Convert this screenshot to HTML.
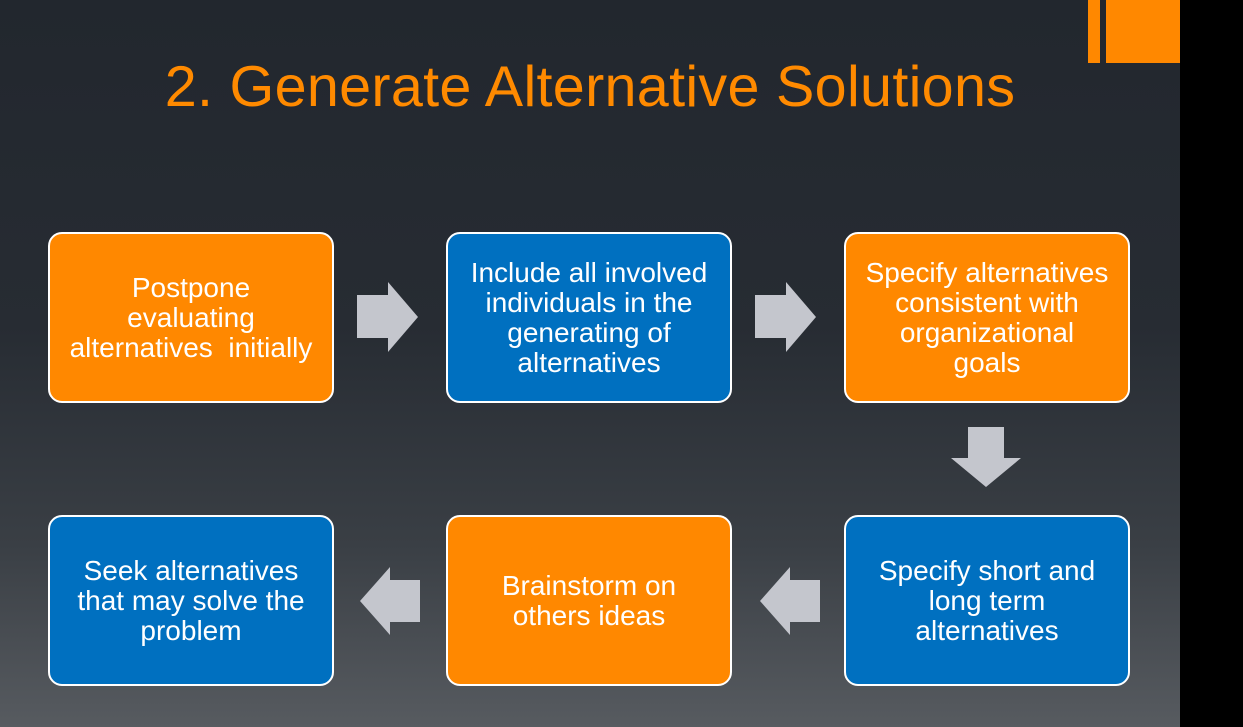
<!DOCTYPE html>
<html><head><style>
body{margin:0;width:1243px;height:727px;background:#000;overflow:hidden;font-family:"Liberation Sans",Arial,sans-serif}
#s{position:absolute;left:0;top:0;width:1180px;height:727px;background:linear-gradient(#22272e 0%,#272c33 45%,#3a3f45 75%,#575b60 100%)}
.b{position:absolute;width:282px;height:167px;border:2px solid #fff;border-radius:14px;color:#fff;font-size:28px;line-height:30px;display:flex;align-items:center;justify-content:center;text-align:center;box-sizing:content-box}
.o{background:#ff8800}.u{background:#0070c0}
h1{position:absolute;left:0;width:1180px;top:54px;margin:0;text-align:center;font-weight:normal;color:#ff8a00;font-size:57.5px;letter-spacing:0.3px}
svg{position:absolute}
</style></head><body>
<div id="s">
<div style="position:absolute;left:1088px;top:0;width:12px;height:63px;background:#ff8800"></div>
<div style="position:absolute;left:1106px;top:0;width:74px;height:63px;background:#ff8800"></div>
<h1>2. Generate Alternative Solutions</h1>
<div class="b o" style="left:48px;top:232px">Postpone<br>evaluating<br>alternatives&nbsp; initially</div>
<div class="b u" style="left:446px;top:232px">Include all involved<br>individuals in the<br>generating of<br>alternatives</div>
<div class="b o" style="left:844px;top:232px">Specify alternatives<br>consistent with<br>organizational<br>goals</div>
<div class="b u" style="left:48px;top:515px">Seek alternatives<br>that may solve the<br>problem</div>
<div class="b o" style="left:446px;top:515px">Brainstorm on<br>others ideas</div>
<div class="b u" style="left:844px;top:515px">Specify short and<br>long term<br>alternatives</div>
<svg width="1180" height="727" style="left:0;top:0">
<g fill="#c4c6cd">
<polygon points="357,295 388,295 388,282 418,317 388,352 388,338 357,338"/>
<polygon points="755,295 786,295 786,282 816,317 786,352 786,338 755,338"/>
<polygon points="968,427 1004,427 1004,458 1021,458 986,487 951,458 968,458"/>
<polygon points="820,580 790,580 790,567 760,601 790,635 790,622 820,622"/>
<polygon points="420,580 390,580 390,567 360,601 390,635 390,622 420,622"/>
</g></svg>
</div>
</body></html>
